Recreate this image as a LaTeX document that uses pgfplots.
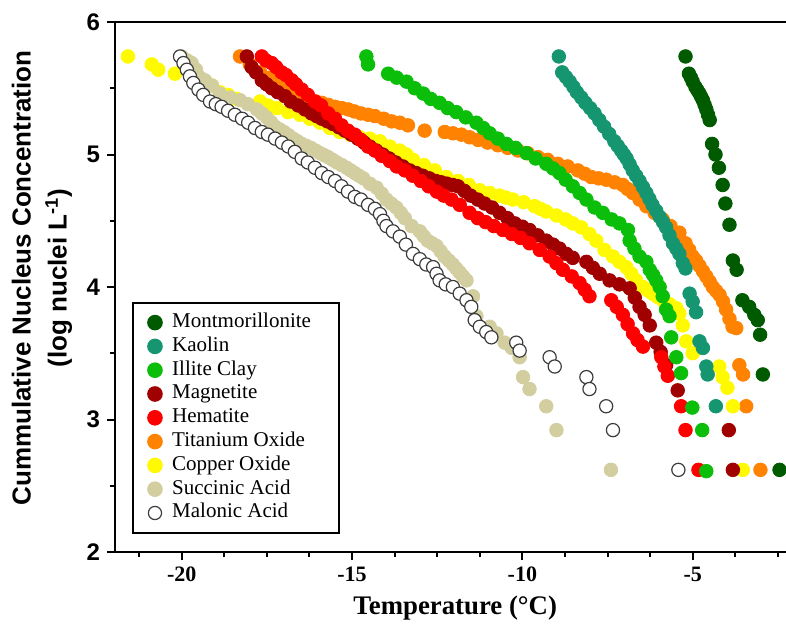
\documentclass[border=0pt]{standalone}
\usepackage{pgfplots}
\pgfplotsset{compat=1.18}
\usepackage{fontspec}
\setmainfont{Liberation Serif}
\newfontfamily\arial{Liberation Sans}

\definecolor{cMont}{RGB}{0,90,0}
\definecolor{cKao}{RGB}{22,150,112}
\definecolor{cIll}{RGB}{10,190,10}
\definecolor{cMag}{RGB}{160,0,0}
\definecolor{cHem}{RGB}{255,0,0}
\definecolor{cTi}{RGB}{255,130,0}
\definecolor{cCu}{RGB}{255,250,0}
\definecolor{cSuc}{RGB}{210,206,160}
\definecolor{cMalEdge}{RGB}{60,60,60}

\pgfplotsset{
  dot/.style={only marks, mark=*, mark size=3.4pt, mark options={draw=#1, fill=#1}},
  hollow/.style={only marks, mark=*, mark size=3.3pt, mark options={draw=cMalEdge, fill=white, line width=0.6pt}},
}

\begin{document}
\begin{tikzpicture}
\begin{axis}[
  name=main,
  scale only axis,
  width=335.5pt, height=265pt,
  xmin=-21.96, xmax=-2.26,
  ymin=2, ymax=6,
  axis lines*=left,
  axis line style={-, line width=1.25pt},
  tick pos=left,
  tick align=outside,
  major tick length=4pt,
  minor tick length=2.5pt,
  every tick/.style={black, line width=1pt},
  xtick={-20,-15,-10,-5},
  xticklabels={-20,-15,-10,-5},
  minor xtick={-21.25,-18.75,-17.5,-16.25,-13.75,-12.5,-11.25,-8.75,-7.5,-6.25,-3.75,-2.5},
  ytick={2,3,4,5,6},
  yticklabels={2,3,4,5,6},
  minor ytick={2.5,3.5,4.5,5.5},
  xticklabel style={font=\bfseries\fontsize{11}{13}\selectfont},
  yticklabel style={font=\arial\bfseries\fontsize{12}{14}\selectfont},
  xlabel={Temperature (°C)},
  xlabel style={at={(axis description cs:0.507,-0.106)}, anchor=center,
    font=\bfseries\fontsize{13.4}{16}\selectfont},
  ylabel={Cummulative Nucleus Concentration\\(log nuclei L\textsuperscript{-1})},
  ylabel style={at={(axis description cs:-0.109,0.517)}, anchor=center, align=center,
    font=\arial\bfseries\fontsize{13}{18}\selectfont},
  legend style={at={(rel axis cs:0.025,0.034)}, anchor=south west,
    draw=black, line width=1pt, inner xsep=7.7pt, inner ysep=5pt,
    font=\fontsize{10.5}{11.8}\selectfont,
    nodes={inner sep=0.5pt, text height=7pt, text depth=2pt},
    row sep=1.9pt, column sep=4.7pt},
  legend cell align=left,
  legend image code/.code={\draw[#1] plot coordinates {(0pt,0pt)};},
]
% Titanium Oxide
\addplot[dot=cTi, forget plot] coordinates {
(-18.29,5.74) (-18.00,5.68) (-17.70,5.62) (-17.41,5.58) (-17.12,5.53) (-16.82,5.49)
(-16.53,5.45) (-16.24,5.41) (-16.06,5.40) (-15.89,5.39) (-15.70,5.375) (-15.50,5.36)
(-15.30,5.35) (-15.11,5.34) (-14.93,5.325) (-14.74,5.31) (-14.53,5.30)
(-14.33,5.29) (-14.07,5.27) (-13.84,5.25) (-13.60,5.24) (-13.36,5.22) (-12.87,5.18)
(-12.28,5.17) (-12.04,5.16) (-11.79,5.15) (-11.55,5.13) (-11.30,5.11) (-11.02,5.09)
(-10.72,5.07) (-10.43,5.05) (-10.13,5.03) (-9.84,5.01) (-9.54,4.98) (-9.26,4.96)
(-8.96,4.93) (-8.67,4.91) (-8.37,4.88) (-8.17,4.855) (-7.98,4.83) (-7.76,4.82)
(-7.54,4.81) (-7.29,4.79)
(-7.05,4.77) (-6.91,4.74) (-6.76,4.71) (-6.56,4.66) (-6.36,4.61) (-6.12,4.56)
(-5.88,4.51) (-5.65,4.46) (-5.39,4.41) (-5.21,4.33) (-5.10,4.28) (-5.00,4.23)
(-4.90,4.20) (-4.80,4.16) (-4.70,4.12)
(-4.60,4.08) (-4.50,4.04) (-4.41,4.00) (-4.31,3.97) (-4.21,3.94) (-4.11,3.89)
(-4.02,3.83) (-3.92,3.76) (-3.83,3.70) (-3.72,3.69)
(-3.63,3.41) (-3.52,3.34) (-3.43,3.10) (-3.01,2.62)
};
% Copper Oxide
\addplot[dot=cCu, forget plot] coordinates {
(-21.58,5.74) (-20.88,5.68) (-20.69,5.64) (-20.20,5.61) (-19.37,5.56) (-19.11,5.52)
(-18.88,5.47) (-18.64,5.45) (-18.39,5.42) (-17.70,5.40) (-17.47,5.37) (-17.21,5.35)
(-16.88,5.32) (-16.53,5.30) (-16.24,5.27) (-15.94,5.24) (-15.65,5.20) (-15.36,5.17)
(-15.06,5.15) (-14.77,5.13) (-14.48,5.12) (-14.18,5.10) (-13.89,5.06) (-13.60,5.03)
(-13.40,5.00) (-13.21,4.96) (-12.89,4.92) (-12.57,4.88) (-12.23,4.83) (-11.89,4.80)
(-11.57,4.77) (-11.25,4.73) (-10.96,4.71) (-10.67,4.69) (-10.48,4.675) (-10.28,4.66)
(-9.96,4.64) (-9.64,4.61) (-9.47,4.59)
(-9.30,4.57) (-9.00,4.54) (-8.73,4.51) (-8.52,4.48) (-8.27,4.45) (-8.03,4.40)
(-7.83,4.35) (-7.59,4.28) (-7.34,4.23) (-7.15,4.19) (-6.95,4.15) (-6.80,4.10)
(-6.66,4.05) (-6.46,4.00) (-6.32,3.975) (-6.18,3.95) (-6.03,3.925) (-5.88,3.90)
(-5.68,3.87) (-5.48,3.84) (-5.39,3.80)
(-5.29,3.71) (-5.19,3.59) (-5.00,3.50) (-4.22,3.40) (-4.12,3.32) (-3.98,3.24)
(-3.82,3.10) (-3.53,2.62)
};
% Succinic Acid
\addplot[dot=cSuc, forget plot] coordinates {
(-20.00,5.74) (-19.84,5.71) (-19.71,5.69) (-19.58,5.64) (-19.46,5.58) (-19.32,5.56)
(-19.11,5.52) (-18.88,5.46) (-18.58,5.43) (-18.29,5.41) (-18.06,5.38) (-17.79,5.34)
(-17.65,5.31) (-17.51,5.28) (-17.38,5.245) (-17.26,5.21) (-17.13,5.19) (-17.00,5.17)
(-16.86,5.145) (-16.73,5.12) (-16.60,5.10) (-16.48,5.08) (-16.34,5.065) (-16.21,5.05)
(-16.07,5.03) (-15.94,5.01) (-15.82,4.995) (-15.70,4.98) (-15.57,4.96) (-15.45,4.94)
(-15.30,4.92) (-15.16,4.90) (-15.04,4.88) (-14.92,4.86) (-14.80,4.84) (-14.67,4.82)
(-14.48,4.78) (-14.28,4.75) (-14.13,4.705) (-13.99,4.66) (-13.85,4.63) (-13.70,4.60)
(-13.57,4.56) (-13.45,4.52) (-13.25,4.46)
(-13.01,4.42) (-12.90,4.385) (-12.78,4.35) (-12.65,4.33) (-12.52,4.31) (-12.40,4.27)
(-12.28,4.23) (-12.16,4.20) (-12.04,4.17) (-11.94,4.14) (-11.84,4.11)
(-11.74,4.08) (-11.64,4.05) (-11.45,3.93) (-11.35,3.78) (-10.96,3.70) (-10.76,3.65) (-10.52,3.58)
(-10.31,3.54) (-10.08,3.47) (-9.98,3.32) (-9.79,3.23) (-9.30,3.10) (-9.00,2.92)
(-7.40,2.62)
};
% Malonic Acid
\addplot[hollow, forget plot] coordinates {
(-20.05,5.74) (-19.95,5.69) (-19.85,5.64) (-19.76,5.59) (-19.66,5.54) (-19.51,5.49)
(-19.37,5.45) (-19.17,5.40) (-19.00,5.38) (-18.83,5.36) (-18.64,5.33) (-18.44,5.30) (-18.23,5.27)
(-18.05,5.24) (-17.85,5.20) (-17.65,5.17) (-17.47,5.15) (-17.26,5.12) (-17.06,5.09)
(-16.87,5.06) (-16.68,5.02) (-16.48,4.97) (-16.30,4.94) (-16.09,4.90) (-15.89,4.86)
(-15.70,4.83) (-15.50,4.80) (-15.31,4.76) (-15.12,4.72) (-14.92,4.68) (-14.74,4.66)
(-14.53,4.62) (-14.33,4.59) (-14.18,4.55) (-14.08,4.50) (-13.99,4.46) (-13.80,4.42) (-13.60,4.38)
(-13.42,4.32) (-13.21,4.25) (-13.01,4.21) (-12.82,4.17) (-12.62,4.15) (-12.52,4.10) (-12.43,4.05)
(-12.25,4.02) (-12.04,4.00) (-11.84,3.95) (-11.64,3.90) (-11.50,3.85) (-11.40,3.75)
(-11.25,3.70) (-11.06,3.66) (-10.91,3.62) (-10.18,3.58) (-10.08,3.52) (-9.20,3.47)
(-9.05,3.40) (-8.12,3.32) (-8.03,3.23) (-7.54,3.10) (-7.34,2.92) (-5.42,2.62)
};
% Magnetite
\addplot[dot=cMag, forget plot] coordinates {
(-18.09,5.74) (-17.95,5.66) (-17.82,5.62) (-17.65,5.56) (-17.51,5.53) (-17.36,5.50)
(-17.18,5.47) (-16.97,5.44) (-16.80,5.40) (-16.58,5.37) (-16.38,5.34) (-16.19,5.31)
(-16.04,5.29) (-15.89,5.27) (-15.72,5.25) (-15.56,5.23) (-15.38,5.205) (-15.21,5.18)
(-15.02,5.15) (-14.83,5.12) (-14.65,5.09) (-14.48,5.06) (-14.29,5.03) (-14.10,5.00)
(-13.91,4.97) (-13.72,4.94) (-13.51,4.91) (-13.31,4.88) (-13.12,4.86) (-12.93,4.84)
(-12.73,4.82) (-12.54,4.80) (-12.38,4.79) (-12.22,4.78) (-12.05,4.77) (-11.89,4.76)
(-11.70,4.725) (-11.52,4.69) (-11.31,4.66) (-11.11,4.63) (-10.89,4.60) (-10.67,4.56)
(-10.44,4.52) (-10.22,4.48) (-10.00,4.455) (-9.79,4.43) (-9.55,4.39) (-9.30,4.35)
(-9.10,4.32) (-8.91,4.29) (-8.71,4.25) (-8.52,4.22) (-8.12,4.19) (-7.93,4.145) (-7.73,4.10) (-7.44,4.05) (-7.15,4.02)
(-6.85,3.99) (-6.70,3.92) (-6.56,3.85) (-6.41,3.79) (-6.26,3.71) (-6.07,3.58) (-5.94,3.51)
(-5.78,3.41) (-5.44,3.22) (-3.94,2.92) (-3.82,2.62)
};
% Hematite
\addplot[dot=cHem, forget plot] coordinates {
(-17.65,5.74) (-17.53,5.71) (-17.36,5.69) (-17.23,5.66) (-17.07,5.62) (-16.94,5.60)
(-16.77,5.56) (-16.65,5.53) (-16.48,5.49) (-16.30,5.45) (-16.09,5.40) (-15.91,5.37)
(-15.70,5.31) (-15.50,5.27) (-15.31,5.22) (-15.12,5.18) (-14.92,5.15) (-14.74,5.11)
(-14.53,5.06) (-14.33,5.03) (-14.13,4.99) (-13.89,4.95) (-13.69,4.91) (-13.45,4.88)
(-13.22,4.84) (-12.98,4.80) (-12.75,4.76) (-12.51,4.72) (-12.31,4.69) (-12.08,4.66)
(-11.84,4.62) (-11.55,4.56) (-11.31,4.52) (-11.08,4.49) (-10.84,4.46) (-10.57,4.43)
(-10.31,4.40) (-10.05,4.37) (-9.79,4.33) (-9.49,4.28) (-9.20,4.23) (-9.00,4.18)
(-8.81,4.13) (-8.55,4.08) (-8.32,4.03) (-8.17,3.98) (-8.03,3.93) (-7.39,3.90)
(-7.23,3.85) (-7.05,3.79) (-6.91,3.72) (-6.75,3.65) (-6.62,3.60) (-6.46,3.55)
(-5.92,3.47) (-5.83,3.40) (-5.73,3.33) (-5.34,3.10) (-5.21,2.92) (-4.83,2.62)
};
% Illite Clay
\addplot[dot=cIll, forget plot] coordinates {
(-14.58,5.74) (-14.53,5.68) (-13.94,5.61) (-13.69,5.58) (-13.40,5.55) (-13.16,5.50)
(-12.91,5.46) (-12.69,5.42) (-12.43,5.39) (-12.19,5.35) (-11.94,5.32) (-11.66,5.28)
(-11.35,5.24) (-11.15,5.20) (-10.96,5.16) (-10.72,5.12) (-10.47,5.08) (-10.20,5.05) (-9.88,5.01)
(-9.61,4.97) (-9.30,4.93) (-9.10,4.895) (-8.91,4.86) (-8.73,4.81) (-8.52,4.76) (-8.32,4.71)
(-8.12,4.66) (-7.88,4.60) (-7.64,4.56) (-7.38,4.51) (-7.15,4.48) (-6.90,4.43)
(-6.85,4.35) (-6.71,4.29) (-6.56,4.23) (-6.36,4.19) (-6.26,4.13) (-6.16,4.09) (-6.07,4.05)
(-5.97,4.00) (-5.88,3.93) (-5.78,3.83) (-5.68,3.78) (-5.63,3.62) (-5.48,3.47)
(-5.34,3.35) (-5.01,3.09) (-4.72,2.92) (-4.60,2.61)
};
% Kaolin
\addplot[dot=cKao, forget plot] coordinates {
(-8.93,5.74) (-8.83,5.62) (-8.72,5.585) (-8.61,5.55) (-8.50,5.51) (-8.40,5.47)
(-8.27,5.43) (-8.15,5.39) (-8.01,5.35) (-7.88,5.31) (-7.74,5.26) (-7.60,5.21)
(-7.45,5.155) (-7.30,5.10) (-7.20,5.065) (-7.10,5.03) (-7.02,5.00) (-6.94,4.97)
(-6.85,4.925) (-6.76,4.88) (-6.66,4.84) (-6.56,4.80) (-6.46,4.755) (-6.36,4.71)
(-6.27,4.665) (-6.18,4.62) (-6.07,4.575) (-5.97,4.53) (-5.87,4.49) (-5.78,4.45)
(-5.68,4.39) (-5.58,4.33) (-5.48,4.29) (-5.39,4.25) (-5.29,4.18) (-5.21,4.14)
(-5.09,3.95) (-5.00,3.89) (-4.90,3.81) (-4.80,3.59)
(-4.70,3.54) (-4.60,3.40) (-4.56,3.34) (-4.32,3.10)
};
% Montmorillonite
\addplot[dot=cMont, forget plot] coordinates {
(-5.21,5.74) (-5.11,5.61) (-5.05,5.58) (-5.00,5.55) (-4.92,5.51) (-4.86,5.485) (-4.80,5.46)
(-4.75,5.435) (-4.70,5.41) (-4.65,5.375)
(-4.60,5.34) (-4.55,5.30) (-4.50,5.26) (-4.43,5.08) (-4.33,5.00) (-4.23,4.90) (-4.12,4.77)
(-4.04,4.63) (-3.92,4.47) (-3.82,4.20) (-3.71,4.13) (-3.54,3.90) (-3.34,3.85)
(-3.19,3.79) (-3.09,3.75) (-3.02,3.64) (-2.94,3.34) (-2.45,2.62)
};
\addlegendimage{dot=cMont}
\addlegendimage{dot=cKao}
\addlegendimage{dot=cIll}
\addlegendimage{dot=cMag}
\addlegendimage{dot=cHem}
\addlegendimage{dot=cTi}
\addlegendimage{dot=cCu}
\addlegendimage{dot=cSuc}
\addlegendimage{hollow}
\legend{Montmorillonite\hspace*{6pt}, Kaolin, Illite Clay, Magnetite, Hematite, Titanium Oxide, Copper Oxide, Succinic Acid, Malonic Acid}
\end{axis}
\draw[line width=1.25pt] (main.north west) -- (main.north east);
\pgfresetboundingbox
\path[use as bounding box] ([xshift=-57.5pt,yshift=-37.5pt]main.south west) rectangle ([yshift=11pt]main.north east);
\end{tikzpicture}
\end{document}
